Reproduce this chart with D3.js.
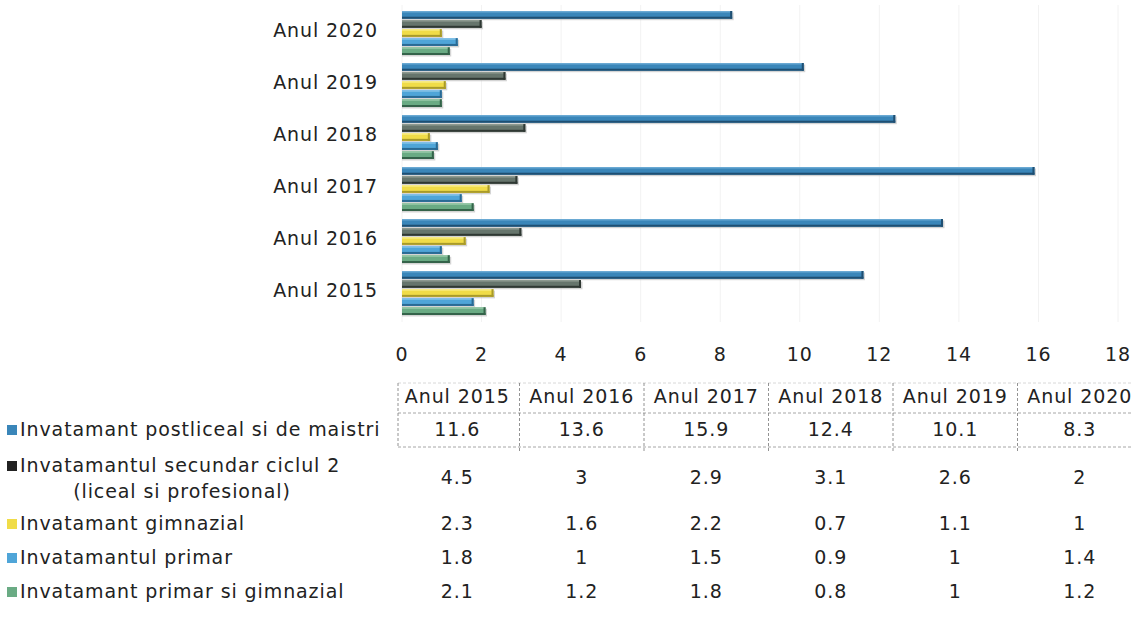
<!DOCTYPE html>
<html>
<head>
<meta charset="utf-8">
<script src="https://cdn.jsdelivr.net/npm/d3@7"></script>
<style>
  body { margin: 0; background: #fff; }
  svg { font-family: "DejaVu Sans", Roboto, sans-serif; }
  text { letter-spacing: 0.9px; }
</style>
</head>
<body>
<svg id="chart" width="1131" height="627"></svg>
<script>
const years = ['Anul 2015', 'Anul 2016', 'Anul 2017', 'Anul 2018', 'Anul 2019', 'Anul 2020']
const seriesNames = [
  'Invatamant postliceal si de maistri',
  'Invatamantul secundar ciclul 2 (liceal si profesional)',
  'Invatamant gimnazial',
  'Invatamantul primar',
  'Invatamant primar si gimnazial'
]
const postliceal = [11.6, 13.6, 15.9, 12.4, 10.1, 8.3]
const secundar = [4.5, 3, 2.9, 3.1, 2.6, 2]
const gimnazial = [2.3, 1.6, 2.2, 0.7, 1.1, 1]
const primar = [1.8, 1, 1.5, 0.9, 1, 1.4]
const primarGimnazial = [2.1, 1.2, 1.8, 0.8, 1, 1.2]
const xTicks = [0, 2, 4, 6, 8, 10, 12, 14, 16, 18]

const values = [postliceal, secundar, gimnazial, primar, primarGimnazial]
const colors = ['#3a86b9', '#66756c', '#f0dc48', '#4fa5d8', '#6aab84']
const darks = ['#1f4f72', '#2f3833', '#a89a2a', '#2a6a94', '#34634a']
const lights = ['#6aa9d3', '#8e9b92', '#f8ec8a', '#86c3e8', '#97c9a8']

const svg = d3.select('#chart')

// chart scales
const x = d3.scaleLinear().domain([0, 18]).range([402, 1118])
const yearsTopDown = years.slice().reverse()
const y = d3.scaleBand().domain(yearsTopDown).range([7, 319]).paddingInner(0.154).paddingOuter(0.077)
const ySub = d3.scaleBand().domain(d3.range(5)).range([0, y.bandwidth()]).paddingInner(0.15)

// faint grid
svg.append('g').selectAll('line').data(xTicks).enter().append('line')
  .attr('x1', d => x(d)).attr('x2', d => x(d))
  .attr('y1', 5).attr('y2', 322)
  .attr('stroke', '#f2f2f2').attr('stroke-width', 1)

// bars
const rows = []
years.forEach((yr, i) => {
  values.forEach((s, j) => rows.push({ year: yr, s: j, v: s[i] }))
})
const bars = svg.append('g').selectAll('g').data(rows).enter().append('g')
  .attr('transform', d => `translate(0,${y(d.year) + ySub(d.s)})`)
const h = ySub.bandwidth()

bars.append('rect')
  .attr('x', x(0)).attr('y', 1.5)
  .attr('width', d => x(d.v) - x(0) + 1.5).attr('height', h)
  .attr('fill', '#b8b8b8').attr('opacity', 0.6)
bars.append('rect')
  .attr('x', x(0)).attr('y', 0)
  .attr('width', d => x(d.v) - x(0)).attr('height', h)
  .attr('fill', d => colors[d.s])
bars.append('rect')
  .attr('x', x(0)).attr('y', h - 2)
  .attr('width', d => x(d.v) - x(0)).attr('height', 2)
  .attr('fill', d => darks[d.s])
bars.append('rect')
  .attr('x', x(0)).attr('y', 0)
  .attr('width', d => x(d.v) - x(0)).attr('height', 1.5)
  .attr('fill', d => lights[d.s])
bars.append('rect')
  .attr('x', d => x(d.v) - 2).attr('y', 0)
  .attr('width', 2).attr('height', h)
  .attr('fill', d => darks[d.s])

// category labels
svg.append('g').selectAll('text').data(yearsTopDown).enter().append('text')
  .attr('x', 378).attr('y', d => y(d) + y.bandwidth() / 2 - 2)
  .attr('text-anchor', 'end').attr('dominant-baseline', 'middle')
  .attr('font-size', 19).attr('fill', '#222')
  .text(d => d)

// x axis labels
svg.append('g').selectAll('text').data(xTicks).enter().append('text')
  .attr('x', d => x(d)).attr('y', 355)
  .attr('text-anchor', 'middle').attr('dominant-baseline', 'middle')
  .attr('font-size', 19).attr('fill', '#222')
  .text(d => d)

// data table
const col = d3.scaleBand().domain(years).range([395, 1142])
const rowY = [430, 478, 524, 558, 592]
const grid = svg.append('g').attr('stroke', '#777').attr('stroke-width', 0.8).attr('stroke-dasharray', '3,2')
;[383, 413, 447].forEach(yy => {
  grid.append('line').attr('x1', 398).attr('x2', 1131).attr('y1', yy).attr('y2', yy)
    .attr('opacity', yy === 383 ? 0.35 : 0.8)
})
years.forEach(yr => {
  grid.append('line').attr('x1', col(yr) + col.bandwidth()).attr('x2', col(yr) + col.bandwidth())
    .attr('y1', 383).attr('y2', 452)
})
grid.append('line').attr('x1', 398).attr('x2', 398).attr('y1', 383).attr('y2', 447)

svg.append('g').selectAll('text').data(years).enter().append('text')
  .attr('x', d => col(d) + col.bandwidth() / 2).attr('y', 397)
  .attr('text-anchor', 'middle').attr('dominant-baseline', 'middle')
  .attr('font-size', 19).attr('fill', '#222')
  .text(d => d)

values.forEach((s, j) => {
  svg.append('g').selectAll('text').data(s).enter().append('text')
    .attr('x', (d, i) => col(years[i]) + col.bandwidth() / 2).attr('y', rowY[j])
    .attr('text-anchor', 'middle').attr('dominant-baseline', 'middle')
    .attr('font-size', 19).attr('fill', '#222')
    .text(d => d)
})

// legend column
const leg = svg.append('g')
seriesNames.forEach((name, j) => {
  const ly = j === 1 ? 466 : rowY[j]
  leg.append('rect').attr('x', 7).attr('y', ly - 5).attr('width', 10).attr('height', 10)
    .attr('fill', j === 1 ? '#222' : colors[j])
  if (j === 1) {
    leg.append('text').attr('x', 20).attr('y', 466).attr('dominant-baseline', 'middle')
      .attr('font-size', 19).attr('fill', '#222').text('Invatamantul secundar ciclul 2')
    leg.append('text').attr('x', 182).attr('y', 492).attr('text-anchor', 'middle').attr('dominant-baseline', 'middle')
      .attr('font-size', 19).attr('fill', '#222').text('(liceal si profesional)')
  } else {
    leg.append('text').attr('x', 20).attr('y', ly).attr('dominant-baseline', 'middle')
      .attr('font-size', 19).attr('fill', '#222').text(name)
  }
})
</script>
</body>
</html>
